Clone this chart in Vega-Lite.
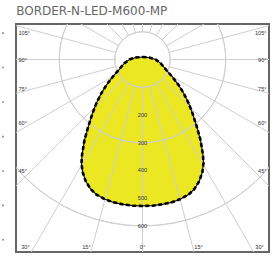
{
  "$schema": "https://vega.github.io/schema/vega-lite/v6.json",
  "width": 253,
  "height": 228,
  "autosize": "none",
  "padding": {"left": 16, "top": 24, "right": 11, "bottom": 8},
  "title": {"text": "BORDER-N-LED-M600-MP", "anchor": "start", "dx": 14, "offset": 6, "font": "DejaVu Sans", "fontSize": 12, "fontWeight": "normal", "color": "#666"},
  "config": {"view": {"stroke": "#666", "strokeWidth": 2}},
  "datasets": {
    "curve": [
      {"i": 0, "x": 0, "y": -9},
      {"i": 1, "x": 25, "y": -7},
      {"i": 2, "x": 47, "y": 0},
      {"i": 3, "x": 65, "y": 13},
      {"i": 4, "x": 86, "y": 38},
      {"i": 5, "x": 108, "y": 63},
      {"i": 6, "x": 130, "y": 92},
      {"i": 7, "x": 148, "y": 121},
      {"i": 8, "x": 166, "y": 157},
      {"i": 9, "x": 180, "y": 193},
      {"i": 10, "x": 195, "y": 240},
      {"i": 11, "x": 209, "y": 290},
      {"i": 12, "x": 218, "y": 344},
      {"i": 13, "x": 220, "y": 373},
      {"i": 14, "x": 216, "y": 405},
      {"i": 15, "x": 205, "y": 438},
      {"i": 16, "x": 187, "y": 467},
      {"i": 17, "x": 166, "y": 487},
      {"i": 18, "x": 137, "y": 503},
      {"i": 19, "x": 108, "y": 514},
      {"i": 20, "x": 72, "y": 522},
      {"i": 21, "x": 36, "y": 527},
      {"i": 22, "x": 0, "y": 528},
      {"i": 23, "x": -36, "y": 527},
      {"i": 24, "x": -72, "y": 522},
      {"i": 25, "x": -108, "y": 514},
      {"i": 26, "x": -137, "y": 503},
      {"i": 27, "x": -166, "y": 487},
      {"i": 28, "x": -187, "y": 467},
      {"i": 29, "x": -205, "y": 438},
      {"i": 30, "x": -216, "y": 405},
      {"i": 31, "x": -220, "y": 373},
      {"i": 32, "x": -218, "y": 344},
      {"i": 33, "x": -209, "y": 290},
      {"i": 34, "x": -195, "y": 240},
      {"i": 35, "x": -180, "y": 193},
      {"i": 36, "x": -166, "y": 157},
      {"i": 37, "x": -148, "y": 121},
      {"i": 38, "x": -130, "y": 92},
      {"i": 39, "x": -108, "y": 63},
      {"i": 40, "x": -86, "y": 38},
      {"i": 41, "x": -65, "y": 13},
      {"i": 42, "x": -47, "y": 0},
      {"i": 43, "x": -25, "y": -7},
      {"i": 44, "x": 0, "y": -9}
    ],
    "circles": [{"r": 100}, {"r": 200}, {"r": 300}, {"r": 400}, {"r": 500}, {"r": 600}, {"r": 700}, {"r": 800}],
    "rays": [
      {"x1": 0, "y1": 100, "x2": 0, "y2": 1000},
      {"x1": 25.9, "y1": 96.6, "x2": 258.8, "y2": 965.9},
      {"x1": 50, "y1": 86.6, "x2": 500, "y2": 866},
      {"x1": 70.7, "y1": 70.7, "x2": 707.1, "y2": 707.1},
      {"x1": 86.6, "y1": 50, "x2": 866, "y2": 500},
      {"x1": 96.6, "y1": 25.9, "x2": 965.9, "y2": 258.8},
      {"x1": 100, "y1": 0, "x2": 1000, "y2": 0},
      {"x1": 96.6, "y1": -25.9, "x2": 965.9, "y2": -258.8},
      {"x1": 86.6, "y1": -50, "x2": 866, "y2": -500},
      {"x1": 70.7, "y1": -70.7, "x2": 707.1, "y2": -707.1},
      {"x1": 50, "y1": -86.6, "x2": 500, "y2": -866},
      {"x1": 25.9, "y1": -96.6, "x2": 258.8, "y2": -965.9},
      {"x1": 0, "y1": -100, "x2": 0, "y2": -1000},
      {"x1": -25.9, "y1": 96.6, "x2": -258.8, "y2": 965.9},
      {"x1": -50, "y1": 86.6, "x2": -500, "y2": 866},
      {"x1": -70.7, "y1": 70.7, "x2": -707.1, "y2": 707.1},
      {"x1": -86.6, "y1": 50, "x2": -866, "y2": 500},
      {"x1": -96.6, "y1": 25.9, "x2": -965.9, "y2": 258.8},
      {"x1": -100, "y1": 0, "x2": -1000, "y2": 0},
      {"x1": -96.6, "y1": -25.9, "x2": -965.9, "y2": -258.8},
      {"x1": -86.6, "y1": -50, "x2": -866, "y2": -500},
      {"x1": -70.7, "y1": -70.7, "x2": -707.1, "y2": -707.1},
      {"x1": -50, "y1": -86.6, "x2": -500, "y2": -866},
      {"x1": -25.9, "y1": -96.6, "x2": -258.8, "y2": -965.9}
    ],
    "leftLabels": [
      {"t": "105°", "x": -447, "y": -94},
      {"t": "90°", "x": -447, "y": 2},
      {"t": "75°", "x": -447, "y": 106},
      {"t": "60°", "x": -447, "y": 230},
      {"t": "45°", "x": -447, "y": 401}
    ],
    "rightLabels": [
      {"t": "105°", "x": 447, "y": -94},
      {"t": "90°", "x": 447, "y": 2},
      {"t": "75°", "x": 447, "y": 106},
      {"t": "60°", "x": 447, "y": 230},
      {"t": "45°", "x": 447, "y": 401}
    ],
    "centerLabels": [
      {"t": "30°", "x": -422, "y": 676},
      {"t": "15°", "x": -202, "y": 676},
      {"t": "0°", "x": 0, "y": 676},
      {"t": "15°", "x": 202, "y": 676},
      {"t": "30°", "x": 422, "y": 676},
      {"t": "200", "x": 0, "y": 200},
      {"t": "300", "x": 0, "y": 300},
      {"t": "400", "x": 0, "y": 400},
      {"t": "500", "x": 0, "y": 500},
      {"t": "600", "x": 0, "y": 600}
    ],
    "dots": [
      {"x": -503, "y": -95},
      {"x": -503, "y": 29},
      {"x": -503, "y": 153},
      {"x": -503, "y": 278},
      {"x": -503, "y": 402},
      {"x": -503, "y": 526},
      {"x": -503, "y": 650}
    ]
  },
  "layer": [
    {
      "data": {"name": "curve"},
      "mark": {"type": "line", "fill": "#ebe823", "stroke": null, "strokeWidth": 0, "clip": true},
      "encoding": {
        "x": {"field": "x", "type": "quantitative", "scale": {"domain": [-456, 456], "nice": false, "zero": false}, "axis": null},
        "y": {"field": "y", "type": "quantitative", "scale": {"domain": [-128, 694], "nice": false, "zero": false, "reverse": true}, "axis": null},
        "order": {"field": "i", "type": "quantitative"}
      }
    },
    {
      "data": {"name": "circles"},
      "mark": {"type": "arc", "filled": false, "fill": null, "stroke": "#cfcfcf", "strokeWidth": 1, "theta": 0, "theta2": 6.2832, "clip": true},
      "encoding": {
        "x": {"datum": 0, "type": "quantitative"},
        "y": {"datum": 0, "type": "quantitative"},
        "radius": {"field": "r", "type": "quantitative", "scale": {"type": "linear", "domain": [0, 1000], "range": [0, 277.4], "zero": true}, "legend": null}
      }
    },
    {
      "data": {"name": "rays"},
      "mark": {"type": "rule", "stroke": "#cfcfcf", "strokeWidth": 1, "clip": true},
      "encoding": {
        "x": {"field": "x1", "type": "quantitative"},
        "y": {"field": "y1", "type": "quantitative"},
        "x2": {"field": "x2"},
        "y2": {"field": "y2"}
      }
    },
    {
      "data": {"name": "curve"},
      "mark": {"type": "line", "stroke": "#111", "strokeWidth": 1.2, "clip": true},
      "encoding": {
        "x": {"field": "x", "type": "quantitative"},
        "y": {"field": "y", "type": "quantitative"},
        "order": {"field": "i", "type": "quantitative"}
      }
    },
    {
      "data": {"name": "curve"},
      "mark": {"type": "line", "stroke": "#000", "strokeWidth": 2.6, "strokeDash": [4, 2.5], "clip": true},
      "encoding": {
        "x": {"field": "x", "type": "quantitative"},
        "y": {"field": "y", "type": "quantitative"},
        "order": {"field": "i", "type": "quantitative"}
      }
    },
    {
      "data": {"name": "leftLabels"},
      "mark": {"type": "text", "align": "left", "baseline": "middle", "font": "Liberation Sans", "fontSize": 5.6, "color": "#333"},
      "encoding": {
        "x": {"field": "x", "type": "quantitative"},
        "y": {"field": "y", "type": "quantitative"},
        "text": {"field": "t"}
      }
    },
    {
      "data": {"name": "rightLabels"},
      "mark": {"type": "text", "align": "right", "baseline": "middle", "font": "Liberation Sans", "fontSize": 5.6, "color": "#333"},
      "encoding": {
        "x": {"field": "x", "type": "quantitative"},
        "y": {"field": "y", "type": "quantitative"},
        "text": {"field": "t"}
      }
    },
    {
      "data": {"name": "centerLabels"},
      "mark": {"type": "text", "align": "center", "baseline": "middle", "font": "Liberation Sans", "fontSize": 5.6, "color": "#333"},
      "encoding": {
        "x": {"field": "x", "type": "quantitative"},
        "y": {"field": "y", "type": "quantitative"},
        "text": {"field": "t"}
      }
    },
    {
      "data": {"name": "dots"},
      "mark": {"type": "point", "shape": "square", "filled": true, "size": 2.5, "color": "#444", "clip": false},
      "encoding": {
        "x": {"field": "x", "type": "quantitative"},
        "y": {"field": "y", "type": "quantitative"}
      }
    }
  ]
}
